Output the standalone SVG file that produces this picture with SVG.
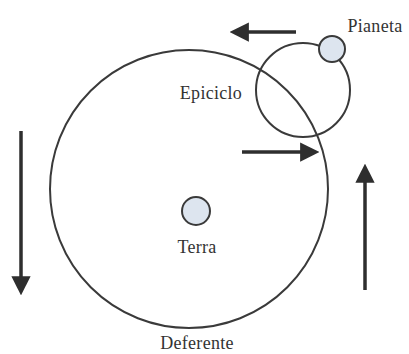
<svg xmlns="http://www.w3.org/2000/svg" width="409" height="354" viewBox="0 0 409 354">
<style>
.orb{fill:none;stroke:#3a3a3a;stroke-width:2}
.body{fill:#dde5ef;stroke:#3a3a3a;stroke-width:2}
.arr{stroke:#2e2e2e;stroke-width:3.5;fill:none}
text{font-family:"Liberation Serif","Times New Roman",serif;font-size:18px;fill:#333;letter-spacing:0.3px}
</style>
<defs>
<marker id="ah" viewBox="0 0 10 10" refX="2" refY="5" markerWidth="5.5" markerHeight="5.5" orient="auto" markerUnits="strokeWidth">
<path d="M0,0 L10,5 L0,10 Z" fill="#2e2e2e"/>
</marker>
</defs>
<rect width="409" height="354" fill="#ffffff"/>
<g id="deferente">
<circle class="orb" cx="189" cy="189" r="139"/>
<text x="197" y="349" text-anchor="middle">Deferente</text>
</g>
<g id="epiciclo">
<circle class="orb" cx="303" cy="90" r="47"/>
<text x="211" y="99" text-anchor="middle">Epiciclo</text>
</g>
<g id="pianeta">
<circle class="body" cx="332" cy="49" r="13"/>
<text x="375" y="32" text-anchor="middle">Pianeta</text>
</g>
<g id="terra">
<circle class="body" cx="196" cy="211" r="14"/>
<text x="197" y="253" text-anchor="middle">Terra</text>
</g>
<g id="connectors">
<line class="arr" x1="296" y1="32" x2="245" y2="32" marker-end="url(#ah)"/>
<line class="arr" x1="242" y1="152" x2="304" y2="152" marker-end="url(#ah)"/>
<line class="arr" x1="21" y1="131" x2="21" y2="280" marker-end="url(#ah)"/>
<line class="arr" x1="365" y1="290" x2="365" y2="179" marker-end="url(#ah)"/>
</g>
</svg>
